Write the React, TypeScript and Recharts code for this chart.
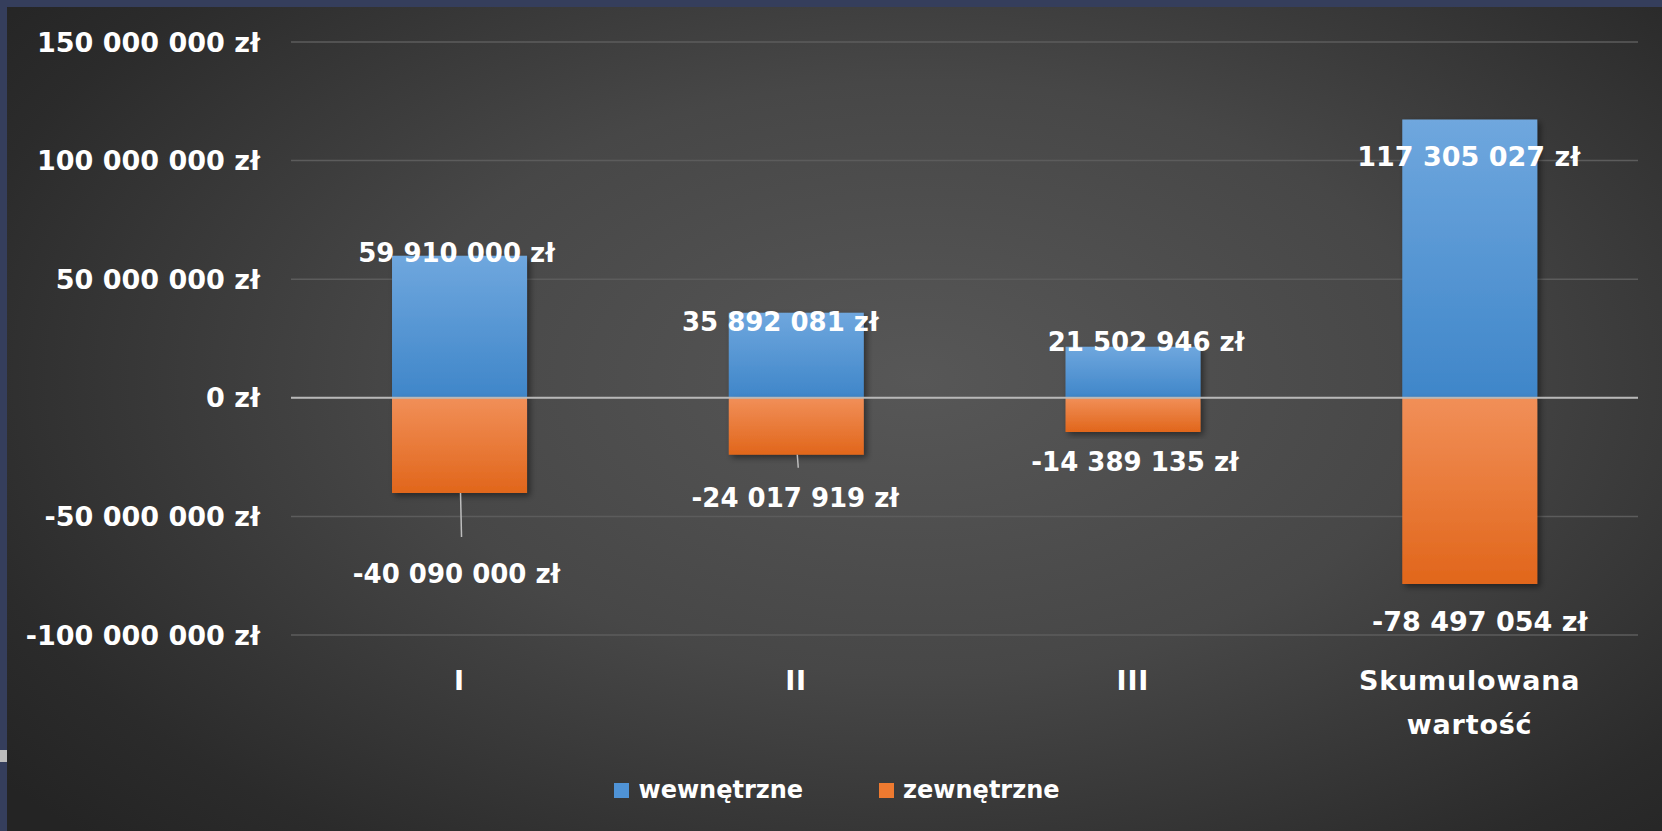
import { BarChart, Bar, XAxis, YAxis, CartesianGrid, ReferenceLine, LabelList, Legend } from 'recharts';

const categories = ['I', 'II', 'III', 'Skumulowana wartość'];
const internalValues = [59910000, 35892081, 21502946, 117305027];
const externalValues = [-40090000, -24017919, -14389135, -78497054];
const yTicks = [-100000000, -50000000, 0, 50000000, 100000000, 150000000];
const seriesNames = ['wewnętrzne', 'zewnętrzne'];

const data = categories.map((name, i) => ({
  name,
  internal: internalValues[i],
  external: externalValues[i],
}));

const font = '"DejaVu Sans", Verdana, sans-serif';
const blue = '#4f93d6';
const orange = '#ee7a30';

// label nudges, relative to the bar end (dx, dy)
const internalNudge = [[-3, -3], [-16, 9], [13, -5], [-1, 37]];
const externalNudge = [[-3, 81], [-1, 43], [2, 30], [10, 37]];
// leader line length below the bar, 0 = none
const leaderLength = [44, 13, 0, 0];

function formatZl(v: number) {
  const s = String(Math.abs(v)).replace(/\B(?=(\d{3})+(?!\d))/g, ' ');
  return `${v < 0 ? '-' : ''}${s} zł`;
}

function makeLabel(kind: 'internal' | 'external') {
  return (props: any) => {
    const { x, y, width, height, value, index } = props;
    const top = Math.min(y, y + height);
    const bottom = Math.max(y, y + height);
    const cx = x + width / 2;
    const [dx, dy] = kind === 'internal' ? internalNudge[index] : externalNudge[index];
    const ly = (kind === 'internal' ? top : bottom) + dy;
    const lead = kind === 'external' ? leaderLength[index] : 0;
    return (
      <g>
        {lead > 0 && (
          <line x1={cx + 1} y1={bottom} x2={cx + 2} y2={bottom + lead} stroke="#bdbdbd" strokeWidth={1.5} />
        )}
        <text
          x={cx + dx}
          y={ly}
          dy="0.36em"
          textAnchor="middle"
          fill="#ffffff"
          fontFamily={font}
          fontWeight="bold"
          fontSize={index === 3 ? 27 : 26}
        >
          {formatZl(value)}
        </text>
      </g>
    );
  };
}

function CategoryTick(props: any) {
  const { x, y, payload } = props;
  const words = String(payload.value).split(' ');
  return (
    <g>
      {words.map((w, i) => (
        <text
          key={w}
          x={x}
          y={y + 45 + i * 44}
          dy="0.36em"
          textAnchor="middle"
          fill="#ffffff"
          fontFamily={font}
          fontWeight="bold"
          fontSize={27}
          letterSpacing={0.8}
        >
          {w}
        </text>
      ))}
    </g>
  );
}

function LegendContent() {
  const colors = [blue, orange];
  return (
    <div style={{ display: 'flex', justifyContent: 'center', alignItems: 'center', height: 40, gap: 76 }}>
      {seriesNames.map((n, i) => (
        <div key={n} style={{ display: 'flex', alignItems: 'center', gap: 9 }}>
          <span style={{ width: 15, height: 15, background: colors[i], display: 'inline-block' }} />
          <span style={{ color: '#fff', fontFamily: font, fontWeight: 'bold', fontSize: 24 }}>{n}</span>
        </div>
      ))}
    </div>
  );
}

export default function App() {
  return (
    <div style={{ position: 'fixed', left: 0, top: 0, width: 1662, height: 831, background: '#353e5c', overflow: 'hidden' }}>
      <div style={{ position: 'absolute', left: 0, top: 750, width: 7, height: 12, background: '#bdbdbd' }} />
      <div
        style={{
          position: 'absolute',
          left: 7,
          top: 7,
          width: 1655,
          height: 824,
          background: 'radial-gradient(ellipse 70% 80% at 55% 45%, #575757 0%, #474747 45%, #2b2b2b 85%, #242424 100%)',
        }}
      >
        <BarChart
          width={1655}
          height={824}
          data={data}
          stackOffset="sign"
          barCategoryGap="30%"
          margin={{ top: 35, right: 24, left: 0, bottom: 21 }}
        >
          <defs>
            <linearGradient id="gradBlue" x1="0" y1="0" x2="0" y2="1">
              <stop offset="0%" stopColor="#6fa7de" />
              <stop offset="100%" stopColor="#3f86c9" />
            </linearGradient>
            <linearGradient id="gradOrange" x1="0" y1="0" x2="0" y2="1">
              <stop offset="0%" stopColor="#f18f58" />
              <stop offset="100%" stopColor="#e1661b" />
            </linearGradient>
            <filter id="barShadow" x="-10%" y="-10%" width="130%" height="130%">
              <feDropShadow dx="3" dy="3" stdDeviation="3" floodColor="#000" floodOpacity="0.45" />
            </filter>
          </defs>
          <CartesianGrid vertical={false} stroke="#5c5c5c" strokeWidth={1.5} />
          <XAxis
            dataKey="name"
            axisLine={false}
            tickLine={false}
            tickSize={0}
            tickMargin={0}
            height={135}
            interval={0}
            tick={<CategoryTick />}
          />
          <YAxis
            width={284}
            domain={[-100000000, 150000000]}
            ticks={yTicks}
            axisLine={false}
            tickLine={false}
            tickSize={6}
            tickMargin={25}
            tickFormatter={formatZl}
            tick={{ fill: '#ffffff', fontFamily: font, fontWeight: 'bold', fontSize: 27 }}
          />
          <ReferenceLine y={0} stroke="#b8b8b8" strokeWidth={2} />
          <Legend verticalAlign="bottom" content={<LegendContent />} wrapperStyle={{ left: 580, width: 500 }} />
          <Bar dataKey="internal" name={seriesNames[0]} stackId="a" fill="url(#gradBlue)" filter="url(#barShadow)" isAnimationActive={false}>
            <LabelList dataKey="internal" content={makeLabel('internal')} />
          </Bar>
          <Bar dataKey="external" name={seriesNames[1]} stackId="a" fill="url(#gradOrange)" filter="url(#barShadow)" isAnimationActive={false}>
            <LabelList dataKey="external" content={makeLabel('external')} />
          </Bar>
        </BarChart>
      </div>
    </div>
  );
}
